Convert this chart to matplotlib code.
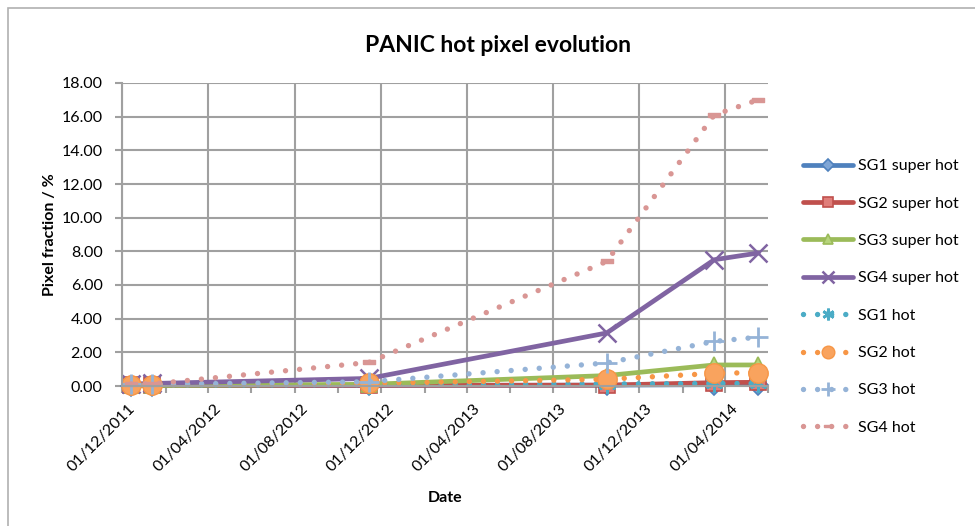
import matplotlib
matplotlib.use("Agg")
import matplotlib.pyplot as plt
import matplotlib.dates as mdates
import matplotlib.transforms as mtransforms
from matplotlib.patches import Rectangle
import numpy as np
import pandas as pd

plt.rcParams["font.family"] = ["Lato", "DejaVu Sans"]

# ------------------------------------------------------------------
# Data
# ------------------------------------------------------------------
dates = pd.to_datetime(["2011-12-14", "2012-01-13", "2012-11-14",
                        "2013-10-16", "2014-03-17", "2014-05-18"])

sg1_super = [0.02, 0.02, 0.03, 0.05, 0.08, 0.08]
sg2_super = [0.04, 0.04, 0.04, 0.05, 0.20, 0.22]
sg3_super = [0.03, 0.03, 0.10, 0.62, 1.25, 1.25]
sg4_super = [0.12, 0.15, 0.45, 3.15, 7.50, 7.90]
sg1_hot = [0.05, 0.05, 0.08, 0.12, 0.15, 0.15]
sg2_hot = [0.06, 0.06, 0.15, 0.40, 0.75, 0.80]
sg3_hot = [0.10, 0.10, 0.25, 1.37, 2.65, 2.90]
sg4_hot = [0.12, 0.12, 1.40, 7.40, 16.10, 17.00]

labels = ["SG1 super hot", "SG2 super hot", "SG3 super hot", "SG4 super hot",
          "SG1 hot", "SG2 hot", "SG3 hot", "SG4 hot"]

# dash-shaped marker used by Excel
dash_marker = [(-1, -0.35), (1, -0.35), (1, 0.35), (-1, 0.35), (-1, -0.35)]

styles = [
    # colour, marker face, marker, marker size, edge width, solid?
    ("#4F81BD", "#7FA6D6", "D", 10, 1.2, True),
    ("#C0504D", "#E07E7A", "s", 11, 1.2, True),
    ("#9BBB59", "#B6D47C", "^", 11, 1.2, True),
    ("#8064A2", "#8064A2", "x", 13, 1.8, True),
    ("#4BACC6", "#4BACC6", (6, 2, 0), 13, 2.0, False),
    ("#F79646", "#F9A35E", "o", 14, 1.0, False),
    ("#95B3D7", "#95B3D7", "+", 15, 2.0, False),
    ("#D99694", "#D99694", dash_marker, 9, 1.0, False),
]
series = [sg1_super, sg2_super, sg3_super, sg4_super,
          sg1_hot, sg2_hot, sg3_hot, sg4_hot]

W, H = 975, 526
fig = plt.figure(figsize=(W / 100, H / 100), dpi=100)
ax = fig.add_axes([122 / W, 1 - 386 / H, (768 - 122) / W, (386 - 83) / H])

for vals, lab, (col, face, mk, ms, mew, solid) in zip(series, labels, styles):
    if solid:
        ax.plot(dates, vals, color=col, lw=3.4, solid_capstyle="round",
                marker=mk, ms=ms, mfc=face, mec=col, mew=mew,
                label=lab, clip_on=False)
    else:
        ax.plot(dates, vals, color=col, lw=3.9, linestyle=(0, (0.001, 2.6)),
                dash_capstyle="round", marker=mk, ms=ms, mfc=face, mec=col,
                mew=mew, label=lab, clip_on=False)

ax.set_xlim(pd.Timestamp("2011-12-01"), pd.Timestamp("2014-06-01"))
ax.set_ylim(0, 18)
ax.set_yticks(np.arange(0, 18.01, 2))
ax.yaxis.set_major_formatter(matplotlib.ticker.FormatStrFormatter("%.2f"))

ax.xaxis.set_major_locator(mdates.MonthLocator(bymonth=[4, 8, 12], bymonthday=1))
ax.xaxis.set_minor_locator(mdates.MonthLocator(bymonth=[2, 6, 10], bymonthday=1))
ax.xaxis.set_major_formatter(mdates.DateFormatter("%d/%m/%Y"))

grid_col = "#A0A0A0"
ax.grid(True, which="major", color=grid_col, lw=1.5)
ax.set_axisbelow(True)
for s in ["top", "right"]:
    ax.spines[s].set_visible(False)
for s in ["left", "bottom"]:
    ax.spines[s].set_color(grid_col)
    ax.spines[s].set_linewidth(1.5)

ax.tick_params(axis="y", which="major", length=5, width=1.5, color=grid_col,
               labelsize=11.5, pad=9)
ax.tick_params(axis="x", which="both", length=5, width=1.5, color=grid_col,
               labelsize=11.5, pad=6)

offset = mtransforms.ScaledTranslation(16 / 100, 0, fig.dpi_scale_trans)
for lbl in ax.get_xticklabels():
    lbl.set_rotation(45)
    lbl.set_ha("right")
    lbl.set_va("top")
    lbl.set_transform(lbl.get_transform() + offset)

ax.set_xlabel("Date", fontsize=11.5, fontweight="bold", labelpad=12)
ax.set_ylabel("Pixel fraction / %", fontsize=11.5, fontweight="bold", labelpad=3)
fig.text(498 / W, 1 - 45 / H, "PANIC hot pixel evolution", fontsize=16.5,
         fontweight="bold", ha="center", va="center")

leg = ax.legend(loc="center left", bbox_to_anchor=(789 / W, 1 - 297 / H),
                bbox_transform=fig.transFigure, frameon=False, fontsize=11.5,
                handlelength=3.1, handletextpad=0.3, labelspacing=1.45,
                markerscale=0.65)

# outer chart border (only top/left are visible in the crop)
fig.patches.append(Rectangle((8 / W, -0.1), 1.2, 1.1 - 8 / H, transform=fig.transFigure,
                             fill=False, edgecolor="#B0B0B0", lw=1.2))

fig.savefig("out.png", dpi=100)
